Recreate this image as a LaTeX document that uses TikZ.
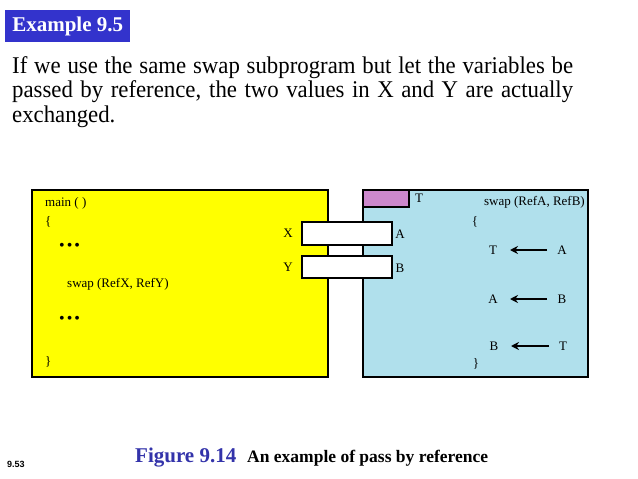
\documentclass[tikz,border=0pt]{standalone}
\usepackage{fontspec}
\usepackage{graphicx}
\setmainfont{Liberation Serif}
\newfontfamily\sansf{Liberation Sans}
\usetikzlibrary{arrows.meta}
\definecolor{hdrblue}{RGB}{51,51,204}
\definecolor{capblue}{RGB}{51,51,170}
\definecolor{mainyel}{RGB}{255,255,0}
\definecolor{swapblue}{RGB}{176,224,236}
\definecolor{tpink}{RGB}{204,136,204}
\tikzset{
  box/.style={draw=black, line width=1.8pt, anchor=north west, inner sep=0pt, outer sep=0pt},
  lbl/.style={inner sep=0pt, font=\fontsize{13}{14}\selectfont},
  dots/.style={inner sep=0pt, font=\fontsize{16}{16}\selectfont},
  arr/.style={line width=2pt, -{Stealth[length=8pt,width=8pt]}},
}
\begin{document}
\begin{tikzpicture}[x=1pt,y=-1pt]
\useasboundingbox[fill=white] (0,0) rectangle (638,479);
% header
\node[fill=hdrblue, text=white, anchor=north west, minimum width=125pt, minimum height=32pt, inner sep=0pt,
  font=\fontsize{21}{22}\selectfont\bfseries] (hdr) at (5,10) {Example 9.5};
\node[anchor=base west, inner sep=0pt] (body) at (12,73)
  {\scalebox{0.95}[1]{\parbox[t]{590.5pt}{\fontsize{24}{24.5}\selectfont If we use the same swap subprogram but let the variables be passed by reference, the two values in X and Y are actually exchanged.}}};
% boxes
\node[box, fill=mainyel, minimum width=296pt, minimum height=187pt] (main) at (32,190) {};
\node[box, fill=swapblue, minimum width=225pt, minimum height=187pt] (swap) at (363,190) {};
\node[box, fill=tpink, minimum width=46pt, minimum height=17pt] (tbox) at (363,190) {};
\node[box, fill=white, minimum width=90pt, minimum height=23pt] (xbox) at (302,222) {};
\node[box, fill=white, minimum width=90pt, minimum height=22pt] (ybox) at (302,256) {};
% main texts
\node[lbl, anchor=base west] (mainhd) at (45,206) {main ( )};
\node[lbl, anchor=west] (mlb) at (45,222) {\{};
\node[dots, anchor=west] (md1) at (59,247) {\textbullet\hspace{2pt}\textbullet\hspace{2pt}\textbullet};
\node[lbl, anchor=base west] (mcall) at (67,287) {swap (RefX, RefY)};
\node[dots, anchor=west] (md2) at (59,320) {\textbullet\hspace{2pt}\textbullet\hspace{2pt}\textbullet};
\node[lbl, anchor=west] (mrb) at (45,362) {\}};
% box labels
\node[lbl] (xl) at (288,233) {X};
\node[lbl] (yl) at (288,267) {Y};
\node[lbl] (al) at (400,234) {A};
\node[lbl] (bl) at (400,268) {B};
\node[lbl] (tl) at (419,198) {T};
% swap texts
\node[lbl, anchor=east] (swhd) at (585,202) {swap (RefA, RefB)};
\node[lbl] (slb) at (475,222) {\{};
\node[lbl] (t1) at (493,250) {T};
\node[lbl] (a1) at (562,250) {A};
\node[lbl] (a2) at (493,299) {A};
\node[lbl] (b2) at (562,299) {B};
\node[lbl] (b3) at (494,346) {B};
\node[lbl] (t3) at (563,346) {T};
\node[lbl] (srb) at (476,364) {\}};
\draw[arr, shorten <=15pt, shorten >=17pt] (a1.center) -- (t1.center);
\draw[arr, shorten <=15pt, shorten >=17pt] (b2.center) -- (a2.center);
\draw[arr, shorten <=14pt, shorten >=17pt] (t3.center) -- (b3.center);
% caption
\node[anchor=base west, inner sep=0pt, text=capblue, font=\fontsize{21}{22}\selectfont\bfseries] (fig) at (135,462) {Figure 9.14};
\node[anchor=base west, inner sep=0pt, font=\fontsize{17.5}{18}\selectfont\bfseries] (cap) at (247,462) {An example of pass by reference};
\node[anchor=base west, inner sep=0pt, font=\sansf\fontsize{9}{10}\selectfont\bfseries] (pg) at (7,467) {9.53};
\end{tikzpicture}
\end{document}
